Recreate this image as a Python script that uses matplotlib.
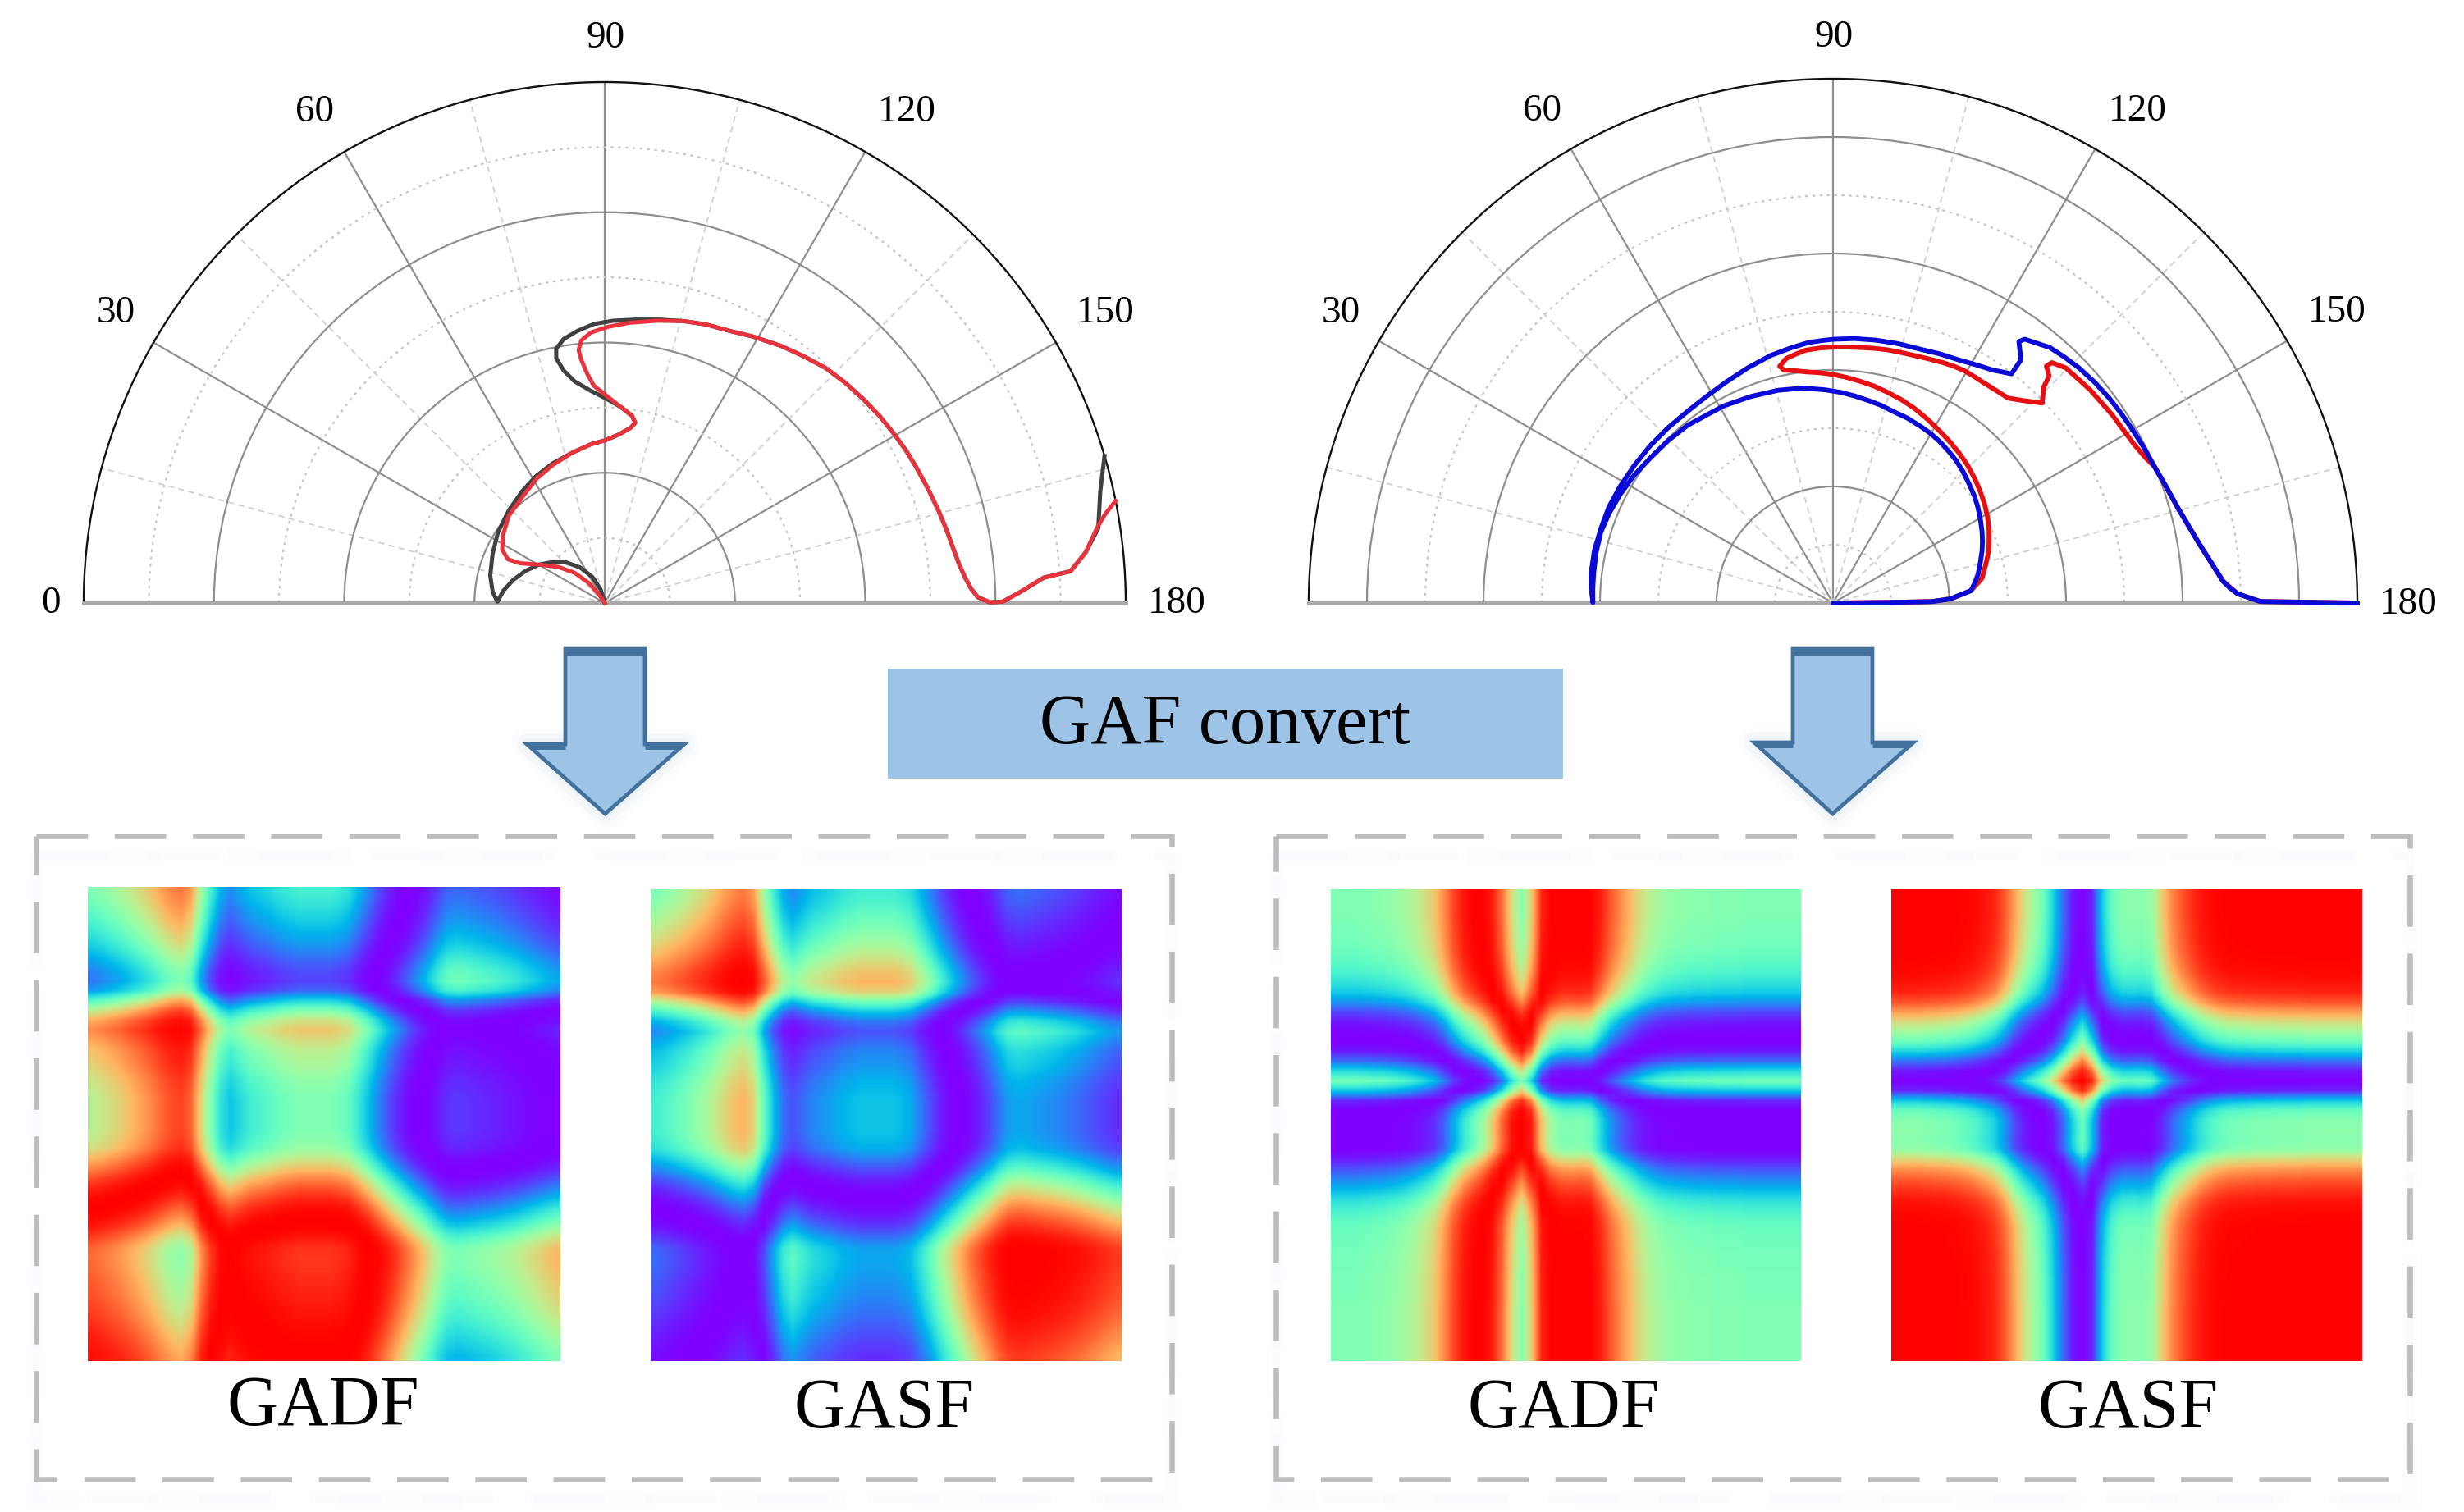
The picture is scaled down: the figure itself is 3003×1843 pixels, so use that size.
import numpy as np
import matplotlib
matplotlib.use("Agg")
import matplotlib.pyplot as plt
from matplotlib.patches import Polygon, Rectangle

plt.rcParams['font.family'] = ['Liberation Serif', 'DejaVu Serif']

W, H = 3003, 1843

# polar curves, angle in degrees (0 at left, clockwise) and radius as share of the outer arc
left_dark_theta = [73, 73.3, 64.7, 55.3, 46.6, 38.3, 30.3, 22.1, 14.2, 6.9, 0.7, 5.6, 13.5, 23.7, 33.7, 44.2, 53.8,
                   61.7, 69.6, 77.7, 85.1, 90, 94.6, 98.4, 99.6, 98.3, 94.8, 90.8, 86.3, 82.3, 80, 78.8, 79.2, 81.2,
                   84.3, 87.8, 91.7, 96.1, 100.9, 105.7, 110, 114.8, 119, 124.3, 128.7, 133.2, 137.5, 141.7, 145.7,
                   149.6, 153, 156.3, 160.5, 164.7, 168, 171.1, 173.7, 175.9, 177.8, 179.1, 179.9, 179.8, 178.4,
                   176.7, 176.1, 174, 171.4, 167.3, 163.6]
left_dark_r = [0, .027, .055, .083, .107, .127, .146, .164, .181, .196, .206, .216, .226, .235, .246, .256, .267,
               .277, .286, .295, .306, .312, .324, .340, .351, .363, .377, .391, .408, .429, .453, .479, .497, .513,
               .525, .536, .542, .547, .554, .562, .569, .575, .585, .598, .608, .619, .626, .632, .638,
               .643, .648, .652, .658, .665, .671, .677, .684, .693, .704, .716, .739, .764, .800,
               .844, .896, .928, .958, .975, 1.0]

left_red_theta = [56.3, 56.3, 51.3, 45, 37.8, 30.3, 25.1, 24.3, 27.5, 33.9, 42.4, 52.4, 61.2, 69.4, 77.6, 85.1, 90,
                  94.6, 98.4, 99.6, 98.3, 94.8, 90.8, 87.1, 85.6, 84.5, 84.1, 84.9, 87.1, 90.6, 95, 100.4, 105.7,
                  110, 114.8, 119, 124.3, 128.7, 133.2, 137.5, 141.7, 145.7, 149.6, 153, 156.3, 160.5, 164.7, 168,
                  171.1, 173.7, 175.9, 177.8, 179.1, 179.9, 179.8, 178.4, 176.7, 176.1, 174, 171.3, 169.9, 168.7]
left_red_r = [0, .019, .050, .082, .113, .146, .180, .204, .222, .235, .249, .258, .272, .283, .295, .306, .312,
              .324, .340, .351, .363, .377, .396, .418, .442, .469, .488, .506, .520, .530, .540, .551, .562,
              .569, .575, .585, .598, .608, .619, .626, .632, .638, .643, .648, .652, .658, .665, .671,
              .677, .684, .693, .704, .716, .739, .764, .800, .844, .896, .928, .956, .976, 1.0]

right_blue_theta = [180, 179.4, 179.2, 178, 174.9, 172, 168.8, 164.8, 160.8, 157.7, 154.5, 150.5, 146.6, 143, 139.3,
                    135, 130.9, 127.2, 123.5, 120, 116.4, 112, 107.4, 103.7, 100, 96, 92.2, 87.8, 82, 75.6, 68.3,
                    60.9, 50.7, 44.5, 38.4, 32.6, 26.8, 21.8, 17, 12, 7.1, 3.5, 0.1, 3.5, 7, 12.4, 17.9, 23.2, 28.6,
                    34.6, 40.7, 46.8, 52.9, 58.4, 64, 70, 75.9, 80.5, 84.6, 87.5, 90, 94.6, 99.2, 104, 109.1, 113.2,
                    117.3, 121, 124.5, 127.9, 127.7, 125.4, 126, 130.3, 133.2, 136.3, 139.9, 143.5, 146.8, 150.1,
                    153.5, 157, 160.7, 164.5, 167.8, 170.9, 174, 176.8, 177.8, 178.7, 179.8, 180]
right_blue_r = [0, .104, .188, .224, .264, .273, .282, .291, .301, .308, .315, .323, .331, .338, .344,
                .352, .359, .364, .369, .373, .376, .380, .383, .388, .392, .397, .402, .407, .414, .419, .424,
                .430, .438, .4415, .445, .451, .456, .460, .463, .462, .460, .459, .458, .462, .465, .466, .465, .465, .463,
                .461, .460, .459, .459, .462, .468, .477, .487, .493, .499, .501, .503, .506, .508, .510, .512, .517,
                .522, .530, .539, .554, .586, .612, .622, .639, .644, .649, .653, .656, .658, .660,
                .663, .666, .673, .682, .694, .708, .726, .745, .757, .772, .815, 1.0]

right_red_theta = [180, 179.4, 179.2, 178, 174.9, 170.6, 166, 161.6, 158, 154.7, 151, 147, 143, 139.1, 134.5, 129.9,
                   125.8, 121.8, 117.3, 112.9, 108.7, 104.6, 100.8, 97, 93.5, 90, 86.7, 83.3, 80.7, 78.1, 77.3, 79.2,
                   81.5, 83.8, 87, 90, 93, 96.1, 99, 102.2, 105, 108.3, 111.3, 114.4, 117, 119.5, 122, 124.3, 127.5,
                   130.5, 133.4, 136.3, 134.3, 133.6, 132, 132.3, 134.7, 140.3, 145.9, 152.2, 155, 157, 161, 164.5,
                   167.8, 170.9, 174, 176.8, 178.7, 179.8, 180]
right_red_r = [0, .104, .188, .224, .264, .288, .300, .313, .321, .329, .337, .345, .352, .359, .367, .374,
               .380, .386, .394, .402, .409, .415, .421, .426, .431, .436, .440, .444, .449, .454, .463, .475,
               .480, .485, .487, .488, .489, .490, .492, .494, .495, .497, .500, .504, .507, .509, .509, .509, .511,
               .514, .531, .552, .575, .598, .608, .620, .631, .637, .642, .649, .657, .666, .673, .682,
               .694, .708, .726, .745, .772, .815, 1.0]

# angle series behind the image pairs
phi_left = [45, 42, 38, 34, 29, 24, 18, 11, 5, 2, 10, 36, 58, 76, 84, 78, 72, 69, 66, 62, 60, 58, 58, 58,
            58, 60, 64, 74, 85, 98, 110, 122, 134, 145, 156, 168, 177, 179, 178, 176, 174, 172, 169, 166, 162, 158, 154, 150]
phi_right = [180, 180, 180, 179, 178, 177, 175, 172, 168, 162, 155, 142, 125, 110, 98, 86, 68, 45, 20, 2, 25, 65, 85, 92,
             93, 92, 95, 112, 128, 140, 150, 160, 167, 172, 175, 176, 177, 178, 178, 179, 179, 179, 180, 180, 180, 180, 180, 180]

theta_major = [0, 30, 60, 90, 120, 150, 180]
theta_minor = [15, 45, 75, 105, 135, 165]
left_r_major = [.25, .5, .75]
left_r_minor = [.125, .375, .625, .875]
right_r_major = [2 / 9, 4 / 9, 6 / 9, 8 / 9]
right_r_minor = [1 / 9, 3 / 9, 5 / 9, 7 / 9]
left_labels = ['0', '30', '60', '90', '120', '150', '180']
right_labels = ['30', '60', '90', '120', '150', '180']


def px_axes(x0, y0, x1, y1, **kw):
    return fig.add_axes([x0 / W, 1 - y1 / H, (x1 - x0) / W, (y1 - y0) / H], **kw)


def polar_panel(cx, cy, R, r_major, r_minor):
    # a half circle sits in the middle of a square axes box
    ax = px_axes(cx - R, cy - 1.5 * R, cx + R, cy + 0.5 * R, projection='polar')
    ax.set_theta_zero_location('W')
    ax.set_theta_direction(-1)
    ax.set_thetamin(0)
    ax.set_thetamax(180)
    ax.set_rlim(0, 1)
    ax.patch.set_alpha(0)
    ax.set_xticks(np.radians(theta_major))
    ax.set_xticklabels([])
    ax.set_xticks(np.radians(theta_minor), minor=True)
    ax.set_yticks(r_major)
    ax.set_yticks(r_minor, minor=True)
    ax.set_yticklabels([])
    ax.tick_params(axis='x', which='major', length=14, direction='in', width=1.5, color='#222222')
    ax.tick_params(axis='x', which='minor', length=10, direction='in', width=1.5, color='#444444')
    ax.tick_params(axis='y', which='both', length=0)
    ax.grid(True, which='major', color='#8e8e8e', lw=1.6, ls='-')
    ax.xaxis.grid(True, which='minor', color='#cfcfcf', lw=1.3, ls=(0, (4, 3)))
    ax.yaxis.grid(True, which='minor', color='#c6c6c6', lw=1.6, ls=(0, (1.5, 2.5)))
    ax.spines['polar'].set_color('#111111')
    ax.spines['polar'].set_linewidth(1.7)
    ax.spines['start'].set_color('#a9a9a9')
    ax.spines['end'].set_color('#a9a9a9')
    ax.spines['start'].set_linewidth(3.6)
    ax.spines['end'].set_linewidth(3.6)
    return ax


def gaf_images(phi):
    a = np.radians(phi)
    gasf = np.cos(a[:, None] + a[None, :])
    gadf = np.sin(a[:, None] - a[None, :])
    return gadf, gasf


def show_image(matrix, x0, y0, x1, y1):
    ax = px_axes(x0, y0, x1, y1)
    ax.imshow(matrix, cmap='rainbow', vmin=-1, vmax=1, aspect='auto', interpolation='bilinear')
    ax.axis('off')


def down_arrow(ax, x0, x1, hx0, hx1, top, shoulder, tip):
    xm = (x0 + x1) / 2
    pts = [(x0, top), (x1, top), (x1, shoulder), (hx1, shoulder), (xm, tip), (hx0, shoulder), (x0, shoulder)]
    # soft glow under the arrow
    for lw, alpha in [(26, .03), (18, .04), (10, .06)]:
        ax.add_patch(Polygon(pts[2:6], closed=True, fc='none', ec='#7fa8d8', lw=lw, alpha=alpha, joinstyle='round'))
    ax.add_patch(Polygon(pts, closed=True, fc='#9dc3e6', ec='#41719c', lw=3.4, joinstyle='miter'))
    ax.plot([x0, x1], [top + 4, top + 4], color='#41719c', lw=6, solid_capstyle='butt')
    ax.plot([hx0 + 4, x0], [shoulder + 3, shoulder + 3], color='#41719c', lw=5, solid_capstyle='butt')
    ax.plot([x1, hx1 - 4], [shoulder + 3, shoulder + 3], color='#41719c', lw=5, solid_capstyle='butt')


def dashed_box(ax, x0, y0, x1, y1):
    for lw, alpha in [(12, .02), (7, .025)]:
        ax.add_patch(Rectangle((x0, y0 + 24), x1 - x0, y1 - y0, fc='none', ec='#6f9bd8', lw=lw, alpha=alpha,
                               ls=(0, (9, 5))))
    ax.add_patch(Rectangle((x0, y0), x1 - x0, y1 - y0, fc='none', ec='#bdbdbd', lw=4.7, ls=(0, (9.6, 5)),
                           capstyle='butt'))


fig = plt.figure(figsize=(W / 100, H / 100), dpi=100, facecolor='white')

bg = fig.add_axes([0, 0, 1, 1])
bg.set_xlim(0, W)
bg.set_ylim(H, 0)
bg.axis('off')

dashed_box(bg, 44, 1019, 1428, 1803)
dashed_box(bg, 1555, 1019, 2937, 1803)
down_arrow(bg, 689, 786, 642, 834, 791, 907, 992)
down_arrow(bg, 2185, 2282, 2138, 2332, 791, 905, 992)
bg.add_patch(Rectangle((1082, 815), 823, 134, fc='#9dc3e6', ec='none'))
bg.text(1493, 885, 'GAF convert', fontsize=62, ha='center', va='center')
for x, y, s in [(394, 1716, 'GADF'), (1078, 1719, 'GASF'), (1906, 1719, 'GADF'), (2594, 1719, 'GASF')]:
    bg.text(x, y, s, fontsize=62, ha='center', va='center')

# angle labels sit unevenly around the arcs, so they go in one by one
left_spots = [(62, 736), (141, 382), (384, 137), (738, 47), (1105, 137), (1347, 382), (1434, 736)]
right_spots = [(1634, 382), (1880, 136), (2235, 46), (2605, 136), (2848, 381), (2935, 737)]
for (x, y), s in zip(left_spots, left_labels):
    bg.text(x, y, s, fontsize=34, ha='center', va='center')
for (x, y), s in zip(right_spots, right_labels):
    bg.text(x, y, s, fontsize=34, ha='center', va='center')

ax_l = polar_panel(737, 735, 635, left_r_major, left_r_minor)
ax_l.plot(np.radians(left_dark_theta), left_dark_r, color='#404040', lw=3.6, solid_joinstyle='round', clip_on=False, zorder=5)
ax_l.plot(np.radians(left_red_theta), left_red_r, color='#e8323c', lw=3.6, solid_joinstyle='round', clip_on=False, zorder=6)

ax_r = polar_panel(2234, 735, 639, right_r_major, right_r_minor)
ax_r.plot(np.radians(right_red_theta), right_red_r, color='#e60f12', lw=4.2, solid_joinstyle='round', clip_on=False, zorder=5)
ax_r.plot(np.radians(right_blue_theta), right_blue_r, color='#0a0ad6', lw=4.2, solid_joinstyle='round', clip_on=False, zorder=6)

gadf_l, gasf_l = gaf_images(np.array(phi_left))
gadf_r, gasf_r = gaf_images(np.array(phi_right))
show_image(gadf_l, 107, 1081, 682, 1659)
show_image(gasf_l, 793, 1084, 1367, 1659)
show_image(gadf_r, 1622, 1084, 2195, 1659)
show_image(gasf_r, 2305, 1084, 2879, 1659)

fig.savefig('out.png', dpi=100)
